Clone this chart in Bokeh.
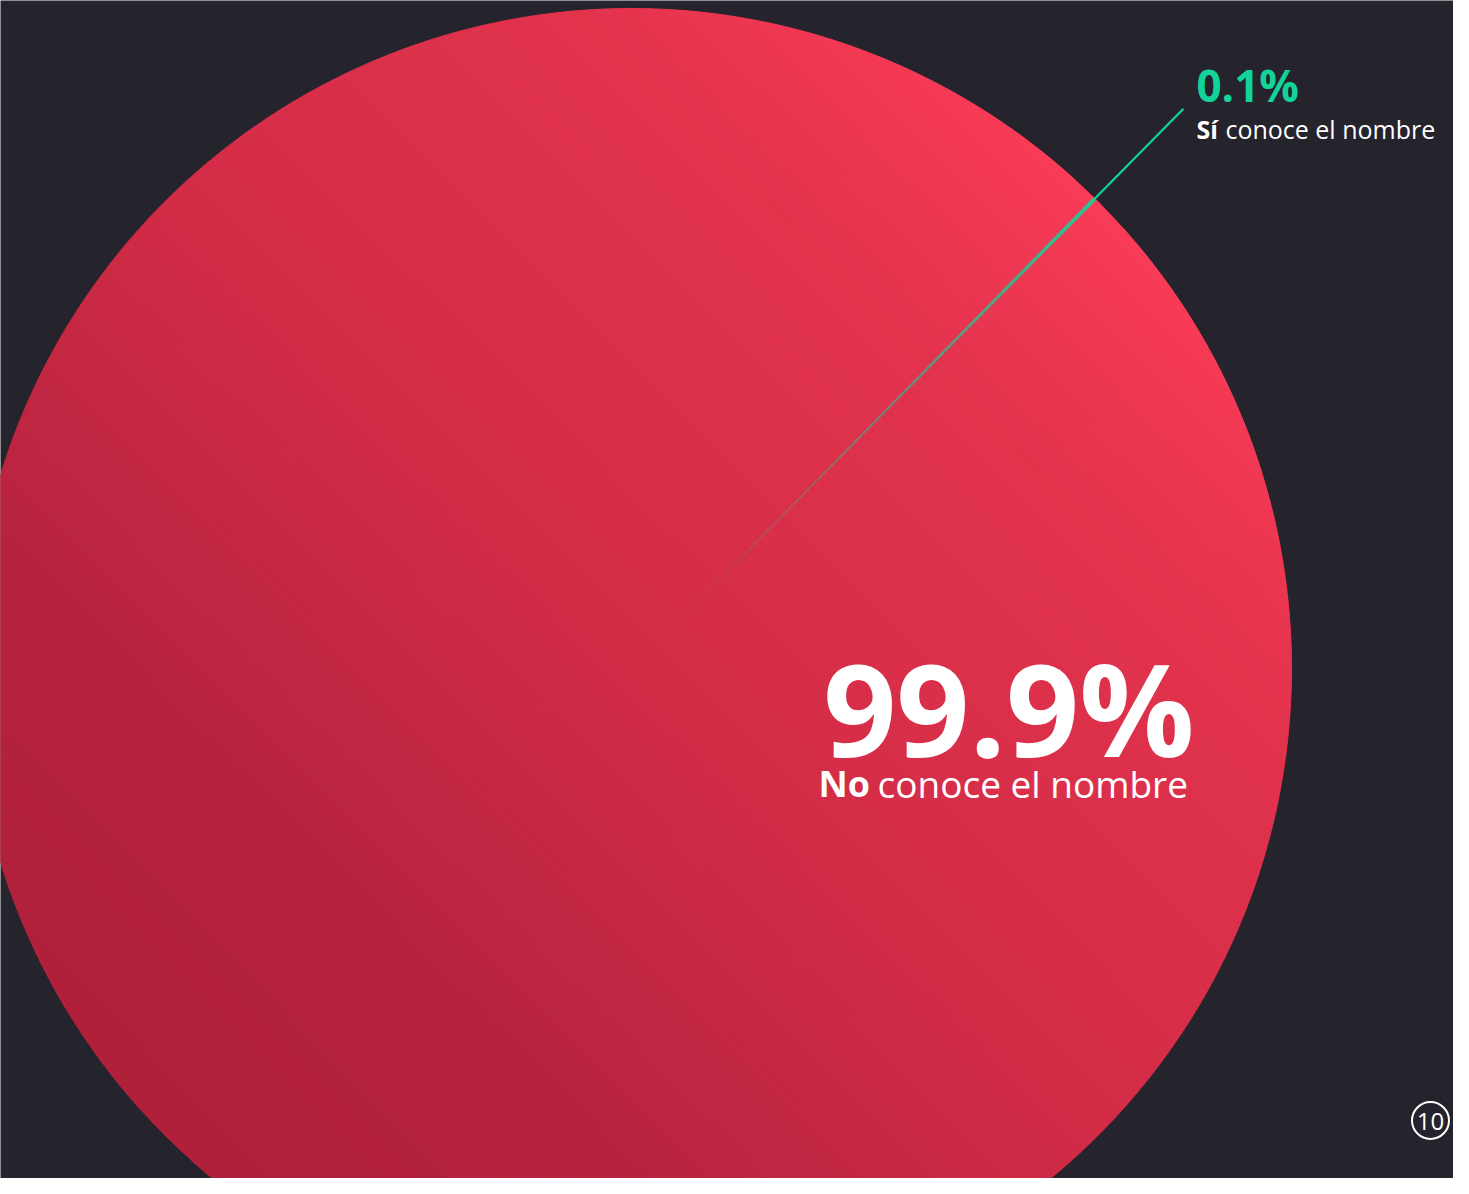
import numpy as np
from bokeh.plotting import figure
from bokeh.models import Range1d, ColumnDataSource
from bokeh.core.properties import value
from bokeh.embed import file_html
from bokeh.resources import INLINE

# ---------------- data ----------------
categories = ["Sí conoce el nombre", "No conoce el nombre"]
label_bold = ["Sí", "No"]
label_rest = ["conoce el nombre", "conoce el nombre"]
percent = [0.1, 99.9]
page_number = "10"

# ---------------- style ----------------
BG = "#25232c"
GREEN = "#12d399"
FONT = value("Open Sans")
W, H = 1453, 1178
CX, CY, R = 631, 668, 660          # pie centre / radius in page pixels
MID_DEG = 45.4                      # direction of the small slice
BASE_SHIFT = 0.39                   # compensates svg alphabetic baseline

def X(px):
    return (px - CX) / R

def Y(py):
    return (CY - py) / R

def YB(py, fs):
    return Y(py - BASE_SHIFT * fs)

p = figure(width=W, height=H,
           x_range=Range1d(X(0), X(W)), y_range=Range1d(Y(H), Y(0)),
           output_backend="svg", toolbar_location=None, min_border=0)
p.axis.visible = False
p.grid.visible = False
p.outline_line_color = None
p.background_fill_color = BG
p.border_fill_color = BG

# ---------------- pie angles from data ----------------
vals = np.array(percent, dtype=float)
ang = vals / vals.sum() * 2 * np.pi
mid = np.radians(MID_DEG)
starts = np.zeros(2)
ends = np.zeros(2)
starts[0] = mid - ang[0] / 2
ends[0] = starts[0] + ang[0]
starts[1] = ends[0]
ends[1] = starts[1] + ang[1]

# base wedge (No)
p.wedge(x=0, y=0, radius=1, start_angle=starts[1], end_angle=ends[1],
        fill_color="#d02c47", line_color=None)

# linear gradient over the big slice (bottom-left dark -> top-right bright)
stops_u = [-1.0, -0.55, 0.0, 0.65, 1.0]
stops_c = np.array([[176, 32, 59], [182, 35, 62], [210, 44, 71],
                    [226, 51, 77], [249, 59, 87]], dtype=float)
N = 160
ub = np.linspace(-1, 1, N + 1)
th = np.radians(45)
xs, ys, cols = [], [], []
for k in range(N):
    u = np.linspace(ub[k], ub[k + 1], 8)
    v = np.sqrt(np.clip(1 - u ** 2, 0, None))
    uu = np.concatenate([u, u[::-1]])
    vv = np.concatenate([v, -v[::-1]])
    xs.append(list(uu * np.cos(th) - vv * np.sin(th)))
    ys.append(list(uu * np.sin(th) + vv * np.cos(th)))
    uc = (ub[k] + ub[k + 1]) / 2
    c = [int(round(np.interp(uc, stops_u, stops_c[:, j]))) for j in range(3)]
    cols.append("#%02x%02x%02x" % tuple(c))
p.patches(xs=xs, ys=ys, fill_color=cols, line_color=cols, line_width=1)

# small slice (Sí) with fading green
n = 40
r_in = np.arange(n) / n
r_out = (np.arange(n) + 1) / n
alph = ((np.arange(n) + 0.5) / n) ** 1.0 * 0.9
src = ColumnDataSource(dict(ri=r_in, ro=r_out, a=alph))
p.annular_wedge(x=0, y=0, inner_radius="ri", outer_radius="ro",
                start_angle=starts[0], end_angle=ends[0], source=src,
                fill_color=GREEN, fill_alpha="a", line_color=None)

# leader line
lead_r = 1.191
p.segment(x0=[np.cos(mid)], y0=[np.sin(mid)],
          x1=[lead_r * np.cos(mid)], y1=[lead_r * np.sin(mid)],
          line_color=GREEN, line_width=2.2)

# ---------------- labels ----------------
lx = lead_r * np.cos(mid) + 13 / R
p.text(x=[lx], y=[YB(102, 44)], text=[f"{percent[0]:g}%"], text_font=FONT,
       text_font_size="44px", text_font_style="bold", text_color=GREEN,
       text_align="left", text_baseline="alphabetic")
p.text(x=[lx], y=[YB(138, 25)], text=[label_bold[0]], text_font=FONT,
       text_font_size="25px", text_font_style="bold", text_color="white",
       text_align="left", text_baseline="alphabetic")
p.text(x=[lx + 29 / R], y=[YB(138, 25)], text=[label_rest[0]], text_font=FONT,
       text_font_size="25px", text_color="white",
       text_align="left", text_baseline="alphabetic")

p.text(x=[X(1194)], y=[YB(757, 128)], text=[f"{percent[1]:g}%"], text_font=FONT,
       text_font_size="128px", text_font_style="bold", text_color="white",
       text_align="right", text_baseline="alphabetic")
p.text(x=[X(818)], y=[YB(797, 36)], text=[label_bold[1]], text_font=FONT,
       text_font_size="36px", text_font_style="bold", text_color="white",
       text_align="left", text_baseline="alphabetic")
p.text(x=[X(877)], y=[YB(797, 37)], text=[label_rest[1]], text_font=FONT,
       text_font_size="37px", text_color="white",
       text_align="left", text_baseline="alphabetic")

# page number badge (kept fully inside the canvas)
p.circle(x=[X(1430)], y=[Y(1120)], radius=18.5 / R, fill_color=None,
         line_color="white", line_width=2)
p.text(x=[X(1430)], y=[Y(1121)], text=[page_number], text_font=FONT,
       text_font_size="24px", text_color="white",
       text_align="center", text_baseline="middle")

open("out.html", "w").write(file_html(p, INLINE))
